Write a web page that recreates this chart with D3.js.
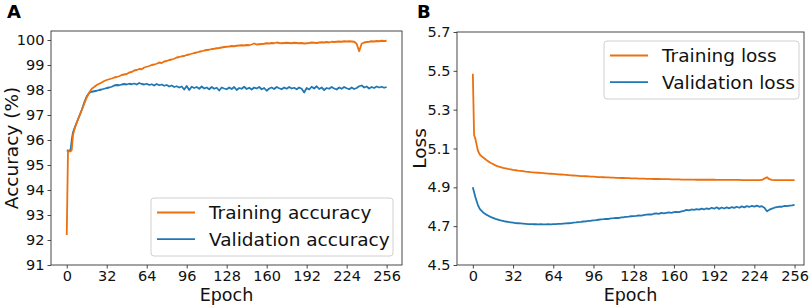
<!DOCTYPE html>
<html>
<head>
<meta charset="utf-8">
<script src="https://cdn.jsdelivr.net/npm/d3@7"></script>
<style>
  body { margin: 0; background: #fff; }
  svg { display: block; }
  .tick text { font-family: "DejaVu Sans", sans-serif; font-size: 14.5px; fill: #111; }
</style>
</head>
<body>
<div id="chart"></div>
<script>
// epochs (x values)
var epochs = [0, 1, 2, 3, 4, 5, 6,
  8, 10, 12, 14, 16, 18, 20, 22,
  24, 26, 28, 30, 32, 34, 36, 38,
  40, 42, 44, 46, 48, 50, 52, 54,
  56, 58, 60, 62, 64, 66, 68, 70,
  72, 74, 76, 78, 80, 82, 84, 86,
  88, 90, 92, 94, 96, 98, 100, 102,
  104, 106, 108, 110, 112, 114, 116, 118,
  120, 122, 124, 126, 128, 130, 132, 134,
  136, 138, 140, 142, 144, 146, 148, 150,
  152, 154, 156, 158, 160, 162, 164, 166,
  168, 170, 172, 174, 176, 178, 180, 182,
  184, 186, 188, 190, 192, 194, 196, 198,
  200, 202, 204, 206, 208, 210, 212, 214,
  216, 218, 220, 222, 224, 226, 228, 230,
  232, 234, 236, 238, 240, 242, 244, 246,
  248, 250, 252, 254, 256];

// Panel A
var trainAcc = [92.2, 95.55, 95.55, 95.55, 95.6, 96.2, 96.4,
  96.7, 96.95, 97.2, 97.45, 97.7, 97.9, 98.05, 98.12,
  98.2, 98.25, 98.3, 98.36, 98.4, 98.43, 98.46, 98.5,
  98.52, 98.55, 98.6, 98.62, 98.64, 98.7, 98.72, 98.78,
  98.8, 98.84, 98.83, 98.9, 98.93, 98.96, 99.0, 99.02,
  99.05, 99.1, 99.08, 99.14, 99.16, 99.2, 99.22, 99.25,
  99.3, 99.32, 99.35, 99.36, 99.4, 99.42, 99.45, 99.48,
  99.5, 99.53, 99.55, 99.58, 99.6, 99.61, 99.64, 99.65,
  99.67, 99.68, 99.7, 99.72, 99.73, 99.74, 99.76, 99.75,
  99.77, 99.78, 99.79, 99.78, 99.8, 99.79, 99.82, 99.86,
  99.82, 99.83, 99.84, 99.85, 99.87, 99.86, 99.88, 99.87,
  99.9, 99.88, 99.87, 99.88, 99.89, 99.88, 99.87, 99.89,
  99.88, 99.87, 99.88, 99.86, 99.87, 99.88, 99.9, 99.89,
  99.88, 99.9, 99.91, 99.9, 99.92, 99.9, 99.93, 99.92,
  99.93, 99.94, 99.93, 99.95, 99.94, 99.95, 99.94, 99.93,
  99.85, 99.55, 99.85, 99.9, 99.92, 99.93, 99.95, 99.94,
  99.96, 99.95, 99.97, 99.96, 99.97];

var valAcc = [95.58, 95.57, 95.58, 95.57, 96.0, 96.3, 96.45,
  96.7, 96.95, 97.2, 97.5, 97.75, 97.88, 97.93, 97.95,
  97.97, 98.0, 98.02, 98.05, 98.08, 98.1, 98.13, 98.18,
  98.2, 98.19, 98.22, 98.24, 98.22, 98.25, 98.23, 98.26,
  98.22, 98.28, 98.24, 98.22, 98.25, 98.2, 98.23, 98.18,
  98.24, 98.19, 98.22, 98.17, 98.2, 98.14, 98.18, 98.12,
  98.15, 98.1, 98.14, 98.02, 98.16, 98.0, 98.13, 98.08,
  98.12, 98.05, 98.14, 98.06, 98.1, 98.03, 98.12, 98.05,
  98.09, 97.98, 98.1, 98.06, 98.03, 98.1, 98.04, 98.12,
  98.0, 98.08, 98.05, 98.13, 98.04, 98.09, 98.02, 98.1,
  98.06, 98.12, 98.03, 98.08, 97.97, 98.06, 98.1, 98.04,
  98.12, 98.07, 98.03, 98.1, 98.05, 98.12, 98.06, 98.09,
  98.03, 98.1, 98.05, 97.9, 98.08, 98.02, 98.13, 98.06,
  98.15, 98.04, 98.1, 98.0, 98.08, 98.05, 98.12, 98.06,
  98.02, 98.1, 98.05, 98.12, 98.07, 98.03, 98.1, 98.04,
  98.08, 98.15, 98.18, 98.1, 98.14, 98.06, 98.12, 98.08,
  98.14, 98.1, 98.13, 98.09, 98.12];

// Panel B
var trainLoss = [5.485, 5.17, 5.15, 5.12, 5.09, 5.075, 5.065,
  5.055, 5.045, 5.035, 5.027, 5.02, 5.013, 5.008, 5.004,
  5.0, 4.998, 4.995, 4.993, 4.99, 4.988, 4.986, 4.985,
  4.983, 4.981, 4.98, 4.978, 4.977, 4.976, 4.975, 4.974,
  4.973, 4.972, 4.971, 4.97, 4.969, 4.968, 4.967, 4.966,
  4.965, 4.964, 4.963, 4.962, 4.961, 4.96, 4.959, 4.958,
  4.958, 4.957, 4.956, 4.955, 4.955, 4.954, 4.953, 4.953,
  4.952, 4.951, 4.951, 4.95, 4.95, 4.949, 4.949, 4.948,
  4.948, 4.947, 4.947, 4.946, 4.946, 4.946, 4.945, 4.945,
  4.945, 4.944, 4.944, 4.944, 4.943, 4.943, 4.943, 4.942,
  4.942, 4.942, 4.942, 4.941, 4.941, 4.941, 4.941, 4.94,
  4.94, 4.94, 4.94, 4.94, 4.94, 4.939, 4.939, 4.939,
  4.939, 4.939, 4.939, 4.939, 4.939, 4.938, 4.938, 4.938,
  4.938, 4.938, 4.938, 4.938, 4.938, 4.938, 4.938, 4.937,
  4.937, 4.937, 4.937, 4.937, 4.937, 4.937, 4.937, 4.938,
  4.945, 4.952, 4.942, 4.938, 4.937, 4.937, 4.937, 4.937,
  4.937, 4.937, 4.937, 4.937, 4.937];

var valLoss = [4.9, 4.875, 4.85, 4.83, 4.81, 4.795, 4.785,
  4.772, 4.762, 4.755, 4.748, 4.743, 4.738, 4.734, 4.73,
  4.727, 4.724, 4.722, 4.72, 4.718, 4.716, 4.715, 4.714,
  4.713, 4.712, 4.711, 4.711, 4.71, 4.71, 4.709, 4.71,
  4.709, 4.709, 4.71, 4.709, 4.71, 4.711, 4.712, 4.712,
  4.713, 4.714, 4.715, 4.716, 4.718, 4.719, 4.721, 4.722,
  4.724, 4.725, 4.727, 4.728, 4.73, 4.731, 4.733, 4.735,
  4.736, 4.738, 4.737, 4.74, 4.741, 4.743, 4.742, 4.745,
  4.746, 4.748, 4.749, 4.751, 4.752, 4.753, 4.755, 4.754,
  4.757, 4.759, 4.761, 4.76, 4.764, 4.766, 4.763, 4.768,
  4.766, 4.769, 4.771, 4.769, 4.772, 4.774, 4.772, 4.776,
  4.779, 4.784, 4.781, 4.786, 4.784, 4.788, 4.785, 4.79,
  4.786, 4.792, 4.788, 4.795, 4.79, 4.797, 4.789, 4.796,
  4.791, 4.797, 4.792, 4.798, 4.794, 4.8, 4.795, 4.802,
  4.797, 4.803, 4.799, 4.805, 4.801, 4.806, 4.8, 4.803,
  4.795, 4.777, 4.785, 4.79, 4.795, 4.798, 4.801, 4.8,
  4.804, 4.803, 4.806, 4.807, 4.81];

var xTicks = [0, 32, 64, 96, 128, 160, 192, 224, 256],
    accTicks = [91, 92, 93, 94, 95, 96, 97, 98, 99, 100],
    lossTicks = [4.5, 4.7, 4.9, 5.1, 5.3, 5.5, 5.7];

var orange = "#ec700e",
    blue = "#1f78b4";

var W = 809, H = 305;

var svg = d3.select("#chart").append("svg")
    .attr("width", W)
    .attr("height", H)
    .style("background-color", "white");

function drawPanel(opt) {
    var x = d3.scaleLinear().domain(opt.xDomain).range([opt.left, opt.right]),
        y = d3.scaleLinear().domain(opt.yDomain).range([opt.bottom, opt.top]);

    var g = svg.append("g");

    // ejes
    g.append("g")
        .attr("transform", "translate(0," + opt.bottom + ")")
        .call(d3.axisBottom(x).tickValues(xTicks).tickSize(3.5).tickPadding(2))
        .call(function(a) { a.select(".domain").remove(); });
    g.append("g")
        .attr("transform", "translate(" + opt.left + ",0)")
        .call(d3.axisLeft(y).tickValues(opt.yTicks).tickSize(3.5).tickPadding(3)
              .tickFormat(opt.yFormat))
        .call(function(a) { a.select(".domain").remove(); });
    g.selectAll(".tick line").attr("stroke", "#333").attr("stroke-width", 0.9);

    var line = function(vals) {
        return d3.line()
            .x(function(d, i) { return x(epochs[i]); })
            .y(function(d) { return y(d); })(vals);
    };

    // validation first so training sits on top
    g.append("path").attr("d", line(opt.val))
        .attr("fill", "none").attr("stroke", blue).attr("stroke-width", 1.8)
        .attr("stroke-linejoin", "round");
    g.append("path").attr("d", line(opt.train))
        .attr("fill", "none").attr("stroke", orange).attr("stroke-width", 1.8)
        .attr("stroke-linejoin", "round");

    // marco
    g.append("rect")
        .attr("x", opt.left).attr("y", opt.top)
        .attr("width", opt.right - opt.left).attr("height", opt.bottom - opt.top)
        .attr("fill", "none").attr("stroke", "#333").attr("stroke-width", 0.9);

    // leyenda
    var lg = opt.legend;
    g.append("rect")
        .attr("x", lg.x).attr("y", lg.y).attr("width", lg.w).attr("height", lg.h)
        .attr("rx", 3)
        .attr("fill", "white").attr("fill-opacity", 0.8)
        .attr("stroke", "#d0d0d0").attr("stroke-width", 1);
    [[orange, opt.names[0]], [blue, opt.names[1]]].forEach(function(it, i) {
        var yy = lg.y + 14.5 + i * 26.7;
        g.append("line")
            .attr("x1", lg.x + 6).attr("x2", lg.x + 44)
            .attr("y1", yy).attr("y2", yy)
            .attr("stroke", it[0]).attr("stroke-width", 1.8);
        g.append("text")
            .attr("x", lg.x + 58).attr("y", yy + 6.8)
            .style("font-family", "DejaVu Sans, sans-serif")
            .style("font-size", "18.5px")
            .attr("fill", "#111")
            .text(it[1]);
    });

    // titulos de ejes
    g.append("text")
        .attr("x", (opt.left + opt.right) / 2).attr("y", 300.5)
        .attr("text-anchor", "middle")
        .style("font-family", "DejaVu Sans, sans-serif")
        .style("font-size", "17.5px")
        .attr("fill", "#111")
        .text("Epoch");
    g.append("text")
        .attr("transform", "translate(" + opt.ylabX + "," + ((opt.top + opt.bottom) / 2) + ") rotate(-90)")
        .attr("text-anchor", "middle")
        .style("font-family", "DejaVu Sans, sans-serif")
        .style("font-size", "18.5px")
        .attr("fill", "#111")
        .text(opt.ylabel);

    g.append("text")
        .attr("x", opt.letterX).attr("y", 17.5)
        .style("font-family", "DejaVu Sans, sans-serif")
        .style("font-weight", "bold")
        .style("font-size", "18px")
        .attr("fill", "#000")
        .text(opt.letter);
}

drawPanel({
    left: 51, right: 402, top: 31, bottom: 265,
    xDomain: [-12.6, 268.3], yDomain: [91, 100.36],
    yTicks: accTicks, yFormat: d3.format("d"),
    train: trainAcc, val: valAcc,
    names: ["Training accuracy", "Validation accuracy"],
    legend: {x: 151, y: 198, w: 242, h: 58},
    ylabel: "Accuracy (%)", ylabX: 17.5,
    letter: "A", letterX: 7
});

drawPanel({
    left: 457, right: 804, top: 32, bottom: 265,
    xDomain: [-12.6, 263.5], yDomain: [4.5, 5.7],
    yTicks: lossTicks, yFormat: d3.format(".1f"),
    train: trainLoss, val: valLoss,
    names: ["Training loss", "Validation loss"],
    legend: {x: 604, y: 41, w: 195, h: 58},
    ylabel: "Loss", ylabX: 426,
    letter: "B", letterX: 417
});
</script>
</body>
</html>
